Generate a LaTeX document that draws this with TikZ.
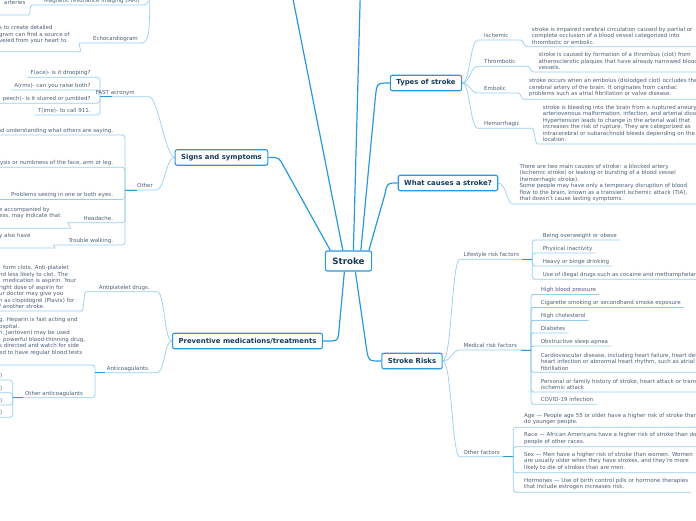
\documentclass[tikz,border=0pt]{standalone}
\usepackage{fontspec}
\setmainfont{DejaVu Sans}
\usetikzlibrary{positioning,backgrounds}

\definecolor{linkblue}{RGB}{41,152,222}
\definecolor{leafblue}{RGB}{150,205,240}
\definecolor{titleink}{RGB}{22,58,92}
\definecolor{bodyink}{RGB}{75,95,118}

\tikzset{
  topic/.style={draw=linkblue, line width=1.1pt, fill=white, rounded corners=2pt,
    text=titleink, font=\fontsize{6.9}{8}\selectfont\bfseries,
    inner xsep=6pt, inner ysep=0pt, minimum height=15.5pt},
  central/.style={topic, font=\fontsize{8.7}{10}\selectfont\bfseries,
    minimum height=20pt, inner xsep=7pt},
  leafbase/.style={text=bodyink, font=\fontsize{5.5}{6.5}\selectfont,
    inner xsep=0pt, inner ysep=1.2pt},
  leaf/.style={leafbase, text depth=1.2pt, anchor=south west},
  leafL/.style={leaf, anchor=south east},
  note/.style={leafbase, inner ysep=2pt, align=left, anchor=south west},
  trunk/.style={draw=linkblue, line width=1.2pt},
  twig/.style={draw=leafblue, line width=0.7pt},
  fork/.style={twig, rounded corners=3pt},
  knot/.style={draw=linkblue, line width=1pt},
}

\begin{document}
\begin{tikzpicture}[x=1pt,y=-1pt]
\useasboundingbox (0,0) rectangle (696,520);

% open ends at the frame
\coordinate (edgeR) at (705,0);
\coordinate (edgeL) at (-8,0);
\coordinate (diag) at (292,-6);
\coordinate (upb) at (360.3,-6);
\coordinate (diagj) at (150,-10);

% main topics
\node[central] (stroke) at (348.5,261) {Stroke};
\node[topic] (signs) at (221.5,157.5) {Signs and symptoms};
\node[topic] (prev) at (247.5,341) {Preventive medications/treatments};
\node[topic] (types) at (426,83) {Types of stroke};
\node[topic] (causes) at (448,183) {What causes a stroke?};
\node[topic] (risks) at (412,361) {Stroke Risks};

% Types of stroke
\node[leaf] (isch) at (484,40) {Ischemic};
\node[leaf] (thro) at (484,66.3) {Thrombotic};
\node[leaf] (embo) at (484,93) {Embolic};
\node[leaf] (hemo) at (484,128.3) {Hemorrhagic};
\node[note] (ischd) at (531.7,46.7) {stroke is impaired cerebral circulation caused by partial or\\complete occlusion of a blood vessel categorized into\\thrombotic or embolic.};
\node[note] (throd) at (538.3,72) {stroke is caused by formation of a thrombus (clot) from\\atherosclerotic plaques that have already narrowed blood\\vessels.};
\node[note] (embod) at (529,99.3) {stroke occurs when an embolus (dislodged clot) occludes the\\cerebral artery of the brain. It originates from cardiac\\problems such as atrial fibrillation or valve disease.};
\node[note] (hemod) at (542.7,144) {stroke is bleeding into the brain from a ruptured aneurysm,\\arteriovenous malformation, infection, and arterial dissection.\\Hypertension leads to change in the arterial wall that\\increases the risk of rupture. They are categorized as\\intracerebral or subarachnoid bleeds depending on the\\location.};

% What causes a stroke?
\node[note] (causesd) at (519.3,204) {There are two main causes of stroke: a blocked artery\\(ischemic stroke) or leaking or bursting of a blood vessel\\(hemorrhagic stroke).\\Some people may have only a temporary disruption of blood\\flow to the brain, known as a transient ischemic attack (TIA),\\that doesn't cause lasting symptoms.};

% Stroke Risks
\node[leaf] (life) at (463.3,259.3) {Lifestyle risk factors};
\node[leaf] (med) at (463.3,350) {Medical risk factors};
\node[leaf] (othf) at (463.3,456.7) {Other factors};
\coordinate (lifej) at (532.3,259.3);
\coordinate (medj) at (531,350);
\coordinate (othj) at (513.3,456.7);

\node[leaf] (obese) at (542.7,240) {Being overweight or obese};
\node[leaf] (inact) at (542.7,253) {Physical inactivity};
\node[leaf] (drink) at (542.7,266) {Heavy or binge drinking};
\node[leaf] (drugs) at (542.7,279.3) {Use of illegal drugs such as cocaine and methamphetamines};

\node[leaf] (hbp) at (540.7,294.5) {High blood pressure};
\node[leaf] (smoke) at (540.7,307.5) {Cigarette smoking or secondhand smoke exposure};
\node[leaf] (chol) at (540.7,320.5) {High cholesterol};
\node[leaf] (diab) at (540.7,333) {Diabetes};
\node[leaf] (apnea) at (540.7,346) {Obstructive sleep apnea};
\node[note] (cardio) at (540.7,372.3) {Cardiovascular disease, including heart failure, heart defects,\\heart infection or abnormal heart rhythm, such as atrial\\fibrillation};
\node[note] (hist) at (540.7,392) {Personal or family history of stroke, heart attack or transient\\ischemic attack};
\node[leaf] (covid) at (540.7,404.3) {COVID-19 infection};

\node[note] (age) at (524,427.3) {Age — People age 55 or older have a higher risk of stroke than\\do younger people.};
\node[note] (race) at (524,446.7) {Race — African Americans have a higher risk of stroke than do\\people of other races.};
\node[note] (sex) at (524,472.7) {Sex — Men have a higher risk of stroke than women. Women\\are usually older when they have strokes, and they're more\\likely to die of strokes than are men.};
\node[note] (horm) at (524,492.3) {Hormones — Use of birth control pills or hormone therapies\\that include estrogen increases risk.};

% Signs and symptoms
\node[leafL] (fast) at (135,96.7) {FAST acronym};
\node[leafL] (othr) at (153,190) {Other};
\coordinate (fastj) at (100,96.7);
\coordinate (othrj) at (125,190);

\node[leafL] (face) at (90.7,77.3) {F(ace)- is it drooping?};
\node[leafL] (arms) at (90.7,90) {A(rms)- can you raise both?};
\node[leafL] (speech) at (90.7,103.3) {peech)- is it slurred or jumbled?};
\node[leafL] (time) at (90.7,115) {T(ime)- to call 911.};

\node[leafL] (speak) at (113.3,135) {nd understanding what others are saying.};
\node[leafL] (para) at (113.3,167.3) {ysis or numbness of the face, arm or leg.};
\node[leafL] (eyes) at (113.3,199.5) {Problems seeing in one or both eyes.};
\node[leafL] (head) at (113.3,222.7) {Headache.};
\node[leafL] (walk) at (113.3,245) {Trouble walking.};
\node[note] (headd) at (-1,221.2) {e accompanied by\\ess, may indicate that};
\node[note] (walkd) at (-1,241.2) {y also have};

% Preventive medications/treatments
\node[leafL] (antip) at (150,291.7) {Antiplatelet drugs.};
\node[leafL] (antic) at (150,372.7) {Anticoagulants.};
\coordinate (anticj) at (95,372.7);
\node[note] (antipd) at (-1,311) {\hspace*{4pt}form clots. Anti-platelet\\nd less likely to clot. The\\\hspace*{4pt}medication is aspirin. Your\\right dose of aspirin for\\ur doctor may give you\\n as clopidogrel (Plavix) for\\f another stroke.};
\node[note] (anticd) at (-1,357.6) {g. Heparin is fast acting and\\ospital.\\n, Jantoven) may be used\\\hspace*{4pt}powerful blood-thinning drug,\\s directed and watch for side\\ed to have regular blood tests};
\node[leafL] (oac) at (83.3,397.7) {Other anticoagulants};
\coordinate (oacj) at (12.7,397.7);
\node[leafL] (oaca) at (2.5,380) {)};
\node[leafL] (oacb) at (2.5,392.7) {)};
\node[leafL] (oacc) at (2.5,405) {)};
\node[leafL] (oacd) at (2.5,417.3) {)};

% diagnosis branch, above the frame
\node[leafL] (mri) at (140,5) {Magnetic resonance imaging (MRI)};
\node[leafL] (echo) at (138,43) {Echocardiogram};
\node[note] (mrid) at (4,6.9) {arteries};
\node[note] (echod) at (-1,46) {s to create detailed\\gram can find a source of\\veled from your heart to};

\begin{scope}[on background layer]
% trunks from the centre
\draw[trunk] ([xshift=5.5pt]stroke.north west) -- (283,165) .. controls (279,157.5) .. (signs.east);
\draw[trunk] ([xshift=18pt]stroke.north west) -- (diag);
\draw[trunk] ([xshift=28.5pt]stroke.north west) -- (upb);
\draw[trunk] ([xshift=36pt]stroke.north west) -- (375.5,96) .. controls (377,83) .. (types.west);
\draw[trunk] ([xshift=44pt]stroke.north west) -- (385,194) .. controls (387,183) .. (causes.west);
\draw[trunk] ([xshift=19.5pt]stroke.south west) -- (338.5,335) .. controls (337.5,341) .. (prev.east);
\draw[trunk] ([xshift=30.5pt]stroke.south west) -- (367,352) .. controls (369,361) .. (risks.west);

% Types of stroke
\foreach \k/\d in {isch/ischd, thro/throd, embo/embod, hemo/hemod}
  \draw[twig] (types.east) .. controls +(8,0) and +(-8,0) .. ([xshift=-6pt]\k.south west)
    -- ([xshift=12pt]\k.south east) .. controls +(3,0) and +(-3,0) .. ([xshift=-5pt]\d.south west)
    -- (\d.south -| edgeR);

% What causes a stroke?
\draw[twig] (causes.east) .. controls +(8,0) and +(-7,0) .. ([xshift=-6pt]causesd.south west) -- (causesd.south -| edgeR);

% Stroke Risks
\foreach \k/\j in {life/lifej, med/medj, othf/othj}
  \draw[twig] (risks.east) .. controls +(9,0) and +(-8,0) .. ([xshift=-3.5pt]\k.south west) -- (\j);
\foreach \k in {obese, inact, drink, drugs}
  \draw[fork] (lifej) |- ([xshift=-6pt]\k.south west) -- ([xshift=3pt]\k.south east);
\foreach \k in {hbp, smoke, chol, diab, apnea, cardio, hist, covid}
  \draw[fork] (medj) |- ([xshift=-6pt]\k.south west) -- ([xshift=3pt]\k.south east);
\foreach \k in {age, race, sex, horm}
  \draw[fork] (othj) |- ([xshift=-6pt]\k.south west) -- ([xshift=3pt]\k.south east);
\foreach \j in {lifej, medj, othj}
  \draw[knot] ([xshift=-10pt]\j) -- (\j);

% Signs and symptoms
\draw[twig] (signs.west) .. controls +(-9,0) and +(9,0) .. ([xshift=14pt]fast.south east) -- (fastj);
\draw[twig] (signs.west) .. controls +(-9,0) and +(9,0) .. ([xshift=3pt]othr.south east) -- (othrj);
\foreach \k in {face, arms, speech, time}
  \draw[fork] (fastj) |- ([xshift=-3pt]\k.south west);
\foreach \k in {speak, para, eyes}
  \draw[fork] (othrj) |- (\k.south -| edgeL);
\draw[fork] (othrj) |- ([xshift=-12.5pt]head.south west) .. controls +(-3,0) and +(3,0) .. (67.5,228.3) -- (-8,228.3);
\draw[fork] (othrj) |- ([xshift=-12pt]walk.south west) .. controls +(-3,0) and +(3,0) .. (52,248) -- (-8,248);
\draw[knot] (fastj) -- ++(11.7,0);
\draw[knot] (othrj) -- ++(11.7,0);

% Preventive medications/treatments
\draw[twig] (prev.west) .. controls +(-8,0) and +(8,0) .. ([xshift=7pt]antip.south east)
  -- ([xshift=-12.5pt]antip.south west) .. controls +(-3,0) and +(3,0) .. (81.5,311) -- (-8,311);
\draw[twig] (prev.west) .. controls +(-8,0) and +(8,0) .. ([xshift=7pt]antic.south east) -- (anticj);
\draw[fork] (anticj) |- (-8,365);
\draw[fork] (anticj) |- (oacj);
\foreach \k in {oaca, oacb, oacc, oacd}
  \draw[fork] (oacj) |- (\k.south -| edgeL);
\draw[knot] (anticj) -- ++(10,0);
\draw[knot] (oacj) -- ++(10.5,0);

% diagnosis branch
\draw[twig] (diagj) .. controls (150,0) and (149,5) .. ([xshift=3pt]mri.south east)
  -- ([xshift=-12pt]mri.south west) .. controls +(-3,0) and +(3,0) .. (28.3,15) -- (-8,15);
\draw[twig] (diagj) .. controls (149.5,32) and (149.5,43) .. ([xshift=3pt]echo.south east)
  -- ([xshift=-13pt]echo.south west) .. controls +(-2,0) and +(2,0) .. (80,51.7) -- (-8,51.7);
\end{scope}
\end{tikzpicture}
\end{document}
